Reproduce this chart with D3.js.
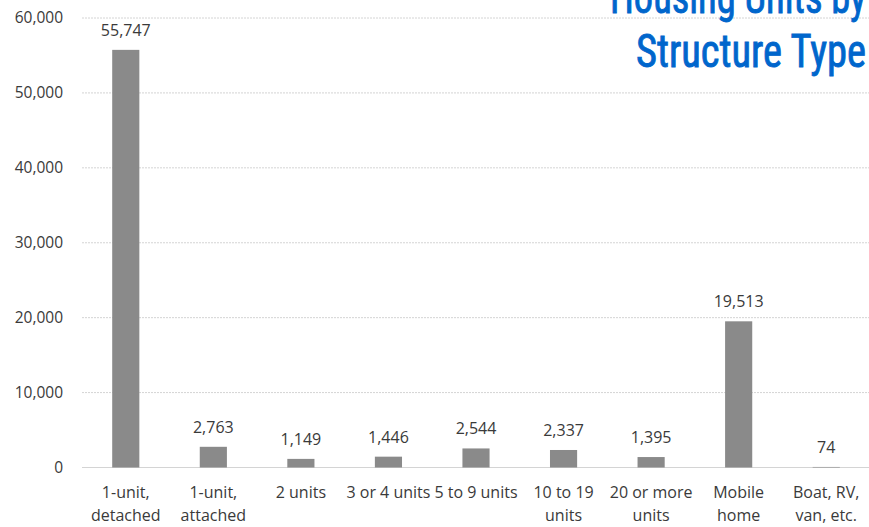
<!DOCTYPE html>
<html><head><meta charset="utf-8">
<script src="https://cdn.jsdelivr.net/npm/d3@7"></script>
<style>body{margin:0;background:#fff}svg{display:block}</style>
</head><body>
<svg id="c" width="869" height="527"></svg>
<script>
const categories = [["1-unit,","detached"],["1-unit,","attached"],["2 units"],["3 or 4 units"],["5 to 9 units"],["10 to 19","units"],["20 or more","units"],["Mobile","home"],["Boat, RV,","van, etc."]];
const values = [55747, 2763, 1149, 1446, 2544, 2337, 1395, 19513, 74];
const yTicks = [0, 10000, 20000, 30000, 40000, 50000, 60000];
const titleLines = ["Housing Units by", "Structure Type"];

const svg = d3.select("#c");
const x = d3.scaleBand().domain(d3.range(values.length)).range([82, 870]).paddingInner(0.69).paddingOuter(0.345);
const y = d3.scaleLinear().domain([0, 60000]).range([467.5, 18]);
const fmt = d3.format(",");
const font = "'Open Sans', 'Noto Sans', sans-serif";

// gridlines
svg.append("g").selectAll("line").data(yTicks).join("line")
  .attr("x1", 82).attr("x2", 869)
  .attr("y1", d => y(d)).attr("y2", d => y(d))
  .attr("stroke", "#d4d4d4").attr("stroke-width", 1).attr("stroke-dasharray", d => d === 0 ? null : "2,1");

// y axis labels
const yAxis = d3.axisLeft(y).tickValues(yTicks).tickFormat(fmt).tickSize(0).tickPadding(0);
const ya = svg.append("g").attr("transform", "translate(63,0)").call(yAxis);
ya.select(".domain").remove();
ya.selectAll("text").attr("font-family", font).attr("font-size", 15.5).attr("fill", "#3a3a3a");

// bars
svg.append("g").selectAll("rect").data(values).join("rect")
  .attr("x", (d, i) => x(i)).attr("width", x.bandwidth())
  .attr("y", d => y(d)).attr("height", d => y(0) - y(d))
  .attr("fill", "#8a8a8a");

// value labels
svg.append("g").selectAll("text").data(values).join("text")
  .attr("x", (d, i) => x(i) + x.bandwidth() / 2)
  .attr("y", d => y(d) - 14)
  .attr("text-anchor", "middle")
  .attr("font-family", font).attr("font-size", 16).attr("fill", "#3a3a3a")
  .text(d => fmt(d));

// category labels
const xl = svg.append("g").selectAll("text").data(categories).join("text")
  .attr("x", (d, i) => x(i) + x.bandwidth() / 2)
  .attr("y", 498)
  .attr("text-anchor", "middle")
  .attr("font-family", font).attr("font-size", 16).attr("fill", "#3a3a3a");
xl.selectAll("tspan").data(d => d).join("tspan")
  .attr("x", function() { return this.parentNode.getAttribute("x"); })
  .attr("dy", (d, i) => i === 0 ? 0 : 23)
  .text(d => d);

// title
const tfont = "'Liberation Sans Narrow', 'Roboto Condensed', 'DejaVu Sans Condensed', sans-serif";
svg.append("g").selectAll("text").data(titleLines).join("text")
  .attr("x", 866).attr("y", (d, i) => 13 + i * 54)
  .attr("text-anchor", "end")
  .attr("font-family", tfont).attr("font-size", 47).attr("fill", "#0066cc")
  .attr("stroke", "#0066cc").attr("stroke-width", 0.9)
  .attr("textLength", (d, i) => i === 0 ? 256 : 230)
  .attr("lengthAdjust", "spacingAndGlyphs")
  .text(d => d);
</script>
</body></html>
